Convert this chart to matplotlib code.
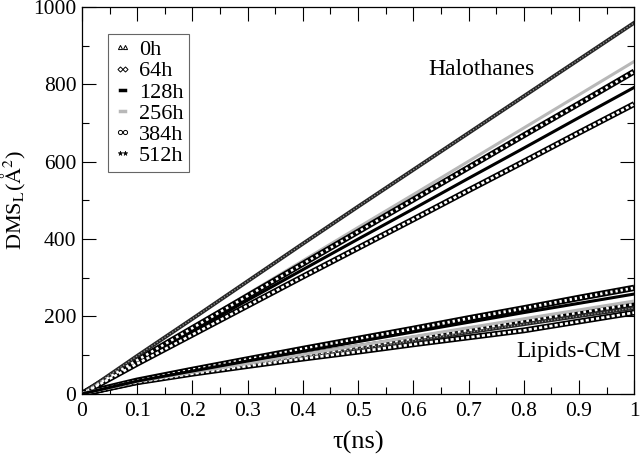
import numpy as np
import matplotlib
matplotlib.use("Agg")
import matplotlib.pyplot as plt
from matplotlib.lines import Line2D
from matplotlib.ticker import MultipleLocator, FormatStrFormatter

plt.rcParams['font.family'] = ['Liberation Serif', 'DejaVu Serif']
plt.rcParams['mathtext.fontset'] = 'stix'

# time axis (ns)
tau = [0.0, 0.1, 0.2, 0.3, 0.4, 0.5, 0.6, 0.7, 0.8, 0.9, 1.0]

# halothane curves (no 0h)
halo_64h = [0, 78, 153, 228, 303, 377, 451, 526, 600, 675, 749]
halo_128h = [0, 82, 162, 242, 321, 400, 478, 557, 635, 714, 792]
halo_256h = [0, 86, 172, 258, 344, 430, 515, 601, 687, 773, 859]
halo_384h = [0, 87, 170, 253, 336, 419, 502, 585, 668, 750, 833]
halo_512h = [0, 98, 194, 291, 388, 484, 579, 674, 769, 864, 959]

# lipid centre of mass curves
lip_0h = [0, 34, 62, 89, 116, 142, 168, 195, 221, 248, 274]
lip_64h = [0, 30, 52, 72, 91, 109, 128, 146, 164, 187, 210]
lip_128h = [0, 33, 59, 85, 110, 135, 160, 185, 210, 234, 258]
lip_256h = [0, 32, 56, 79, 102, 125, 148, 171, 194, 217, 240]
lip_384h = [0, 31, 55, 77, 99, 121, 143, 165, 188, 210, 232]
lip_512h = [0, 31, 54, 75, 95, 116, 137, 159, 180, 201, 222]


def chain(ax, x, y, hole=(1, 1.2), w=4.2):
    # dense open-marker look: black band with white holes
    ax.plot(x, y, color='black', lw=w, solid_capstyle='butt', zorder=2)
    ax.plot(x, y, color='white', lw=w * 0.45, dashes=hole, zorder=3)


def starline(ax, x, y):
    ax.plot(x, y, color='0.15', lw=2.8, zorder=2)
    ax.plot(x, y, color='0.6', lw=0.9, dashes=(1, 1.5), zorder=3)


fig, ax = plt.subplots(figsize=(6.4, 4.58), dpi=100)
fig.subplots_adjust(left=0.128, right=0.991, top=0.985, bottom=0.14)

# halothanes
chain(ax, tau, halo_64h, hole=(1.2, 0.8))
ax.plot(tau, halo_128h, color='black', lw=2.2, zorder=2)
ax.plot(tau, halo_256h, color='0.72', lw=2.2, zorder=2)
chain(ax, tau, halo_384h)
starline(ax, tau, halo_512h)

# lipids
chain(ax, tau, lip_64h, hole=(1.2, 0.8))
chain(ax, tau, lip_384h)
starline(ax, tau, lip_512h)
ax.plot(tau, lip_256h, color='0.72', lw=2.2, zorder=4)
chain(ax, tau, lip_0h, hole=(0.8, 1.0), w=4.6)
ax.plot(tau, lip_128h, color='black', lw=2.2, zorder=4)

ax.set_xlim(0, 1)
ax.set_ylim(0, 1000)
ax.xaxis.set_major_locator(MultipleLocator(0.1))
ax.xaxis.set_minor_locator(MultipleLocator(0.05))
ax.yaxis.set_major_locator(MultipleLocator(200))
ax.yaxis.set_minor_locator(MultipleLocator(100))
ax.xaxis.set_major_formatter(FormatStrFormatter('%g'))
ax.tick_params(which='both', direction='in', top=True, right=True,
               labelsize=15.5, width=0.8)
ax.tick_params(which='major', length=10)
ax.tick_params(which='minor', length=5)
ax.tick_params(axis='x', pad=6)
ax.tick_params(axis='y', pad=4)
for s in ax.spines.values():
    s.set_linewidth(0.9)

ax.set_xlabel('τ(ns)', fontsize=19, labelpad=7)
ax.set_ylabel(r'DMS$_\mathrm{L}$($\mathrm{\AA}^2$)', fontsize=16, labelpad=4)

ax.text(0.627, 0.837, 'Halothanes', transform=ax.transAxes, fontsize=17,
        ha='left', va='center')
ax.text(0.786, 0.109, 'Lipids-CM', transform=ax.transAxes, fontsize=17,
        ha='left', va='center')

handles = [
    Line2D([], [], ls='none', marker='^', ms=3, mfc='none', mec='black', mew=0.7),
    Line2D([], [], ls='none', marker='D', ms=2.6, mfc='none', mec='black', mew=0.7),
    Line2D([], [], color='black', lw=2.5),
    Line2D([], [], color='0.72', lw=2.5),
    Line2D([], [], ls='none', marker='o', ms=3, mfc='none', mec='black', mew=0.7),
    Line2D([], [], ls='none', marker='*', ms=3.5, mfc='black', mec='black', mew=0.4),
]
labels = ['0h', '64h', '128h', '256h', '384h', '512h']
leg = ax.legend(handles, labels, loc='upper left', bbox_to_anchor=(0.047, 0.93),
                fontsize=16, numpoints=2, handlelength=0.8, handletextpad=0.35,
                labelspacing=0.03, borderpad=0.25, borderaxespad=0,
                fancybox=False, edgecolor='0.4', framealpha=1)
leg.get_frame().set_linewidth(0.8)

fig.savefig('out.png', dpi=100)
